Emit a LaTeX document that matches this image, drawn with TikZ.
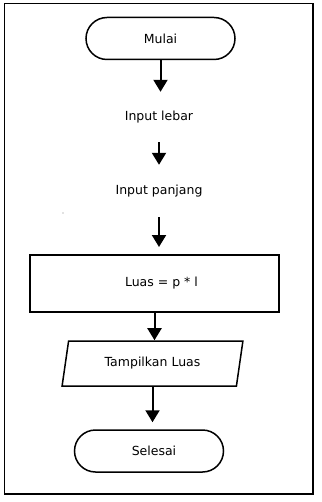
\documentclass[tikz,border=0pt]{standalone}
\usepackage{fontspec}
\setmainfont{DejaVu Sans}
\usetikzlibrary{shapes.geometric,arrows.meta}

\begin{document}
\begin{tikzpicture}[
  x=1pt, y=-1pt,
  every node/.style={font=\fontsize{12.5}{15}\selectfont},
  terminal/.style={rectangle, draw, line width=1.5pt, rounded corners=21pt, minimum width=149pt, minimum height=42pt, inner sep=0pt},
  process/.style={rectangle, draw, line width=2pt, minimum width=249pt, minimum height=57pt, inner sep=0pt},
  io/.style={trapezium, draw, line width=1.5pt, trapezium left angle=73, trapezium right angle=107, trapezium stretches=true, minimum width=181pt, minimum height=45pt, inner sep=0pt},
  plain/.style={inner sep=0pt, minimum height=50pt},
  arrow/.style={-{Triangle[length=12pt, width=14pt]}, line width=2pt},
]
\useasboundingbox (0,0) rectangle (321,502);

% === FRAME ===
\draw[line width=1pt] (4,4) rectangle (313,494);
\draw[line width=2pt] (313,4) -- (313,494) -- (4,494);

% === FLOWCHART ===
\node[terminal] (mulai) at (160.5,38.5) {Mulai};
\node[plain] (lebar) at (159,117) {Input lebar};
\node[plain, minimum height=52pt] (panjang) at (159,191) {Input panjang};
\node[process] (luas) at (154.5,283.5) {\hspace*{14pt}Luas = p * l};
\node[io] (tampil) at (152.5,363.5) {Tampilkan Luas};
\node[terminal] (selesai) at (149,451) {\hspace*{10pt}Selesai};

\fill[gray] (63,213) circle (0.7pt);

\draw[arrow] (mulai.south) -- (mulai.south |- lebar.north);
\draw[arrow] (lebar.south) -- (lebar.south |- panjang.north);
\draw[arrow, shorten >=7pt] (panjang.south) -- (panjang.south |- luas.north);
\draw[arrow] (luas.south) -- (luas.south |- tampil.north);
\draw[arrow, shorten >=7pt] (tampil.south) -- (tampil.south |- selesai.north);
\end{tikzpicture}
\end{document}
